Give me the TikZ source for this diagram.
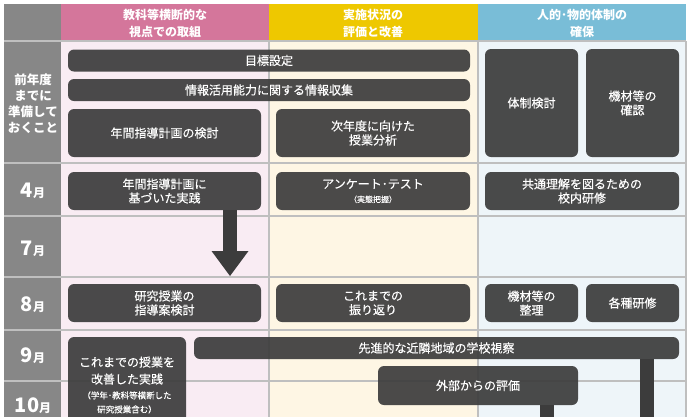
\documentclass[tikz,border=0pt]{standalone}
\usepackage{fontspec}
\setmainfont{Noto Sans CJK JP}
\newfontfamily\boxfont[FakeBold=0.35]{Noto Sans CJK JP}
\usetikzlibrary{arrows.meta}
\definecolor{leftgray}{HTML}{878787}
\definecolor{pinkh}{HTML}{D4769B}
\definecolor{pinkb}{HTML}{F9ECF3}
\definecolor{yelh}{HTML}{EEC800}
\definecolor{yelb}{HTML}{FEF6E4}
\definecolor{blueh}{HTML}{79BDD7}
\definecolor{blueb}{HTML}{EEF5F9}
\definecolor{gridc}{HTML}{BFBFBF}
\definecolor{boxc}{HTML}{3C3C3C}
\tikzset{
  gridline/.style={draw=gridc, line width=1.2pt},
  headtxt/.style={text=white, align=center, font=\bfseries\fontsize{12}{17}\selectfont},
  lefttxt/.style={text=white, align=center, font=\bfseries\fontsize{12.5}{16}\selectfont},
  monthtxt/.style={text=white, align=center, font=\bfseries\fontsize{12}{14}\selectfont, inner sep=0pt},
  darkbox/.style={fill=boxc, fill opacity=0.92, text opacity=1, text=white,
    rounded corners=6pt, inner sep=0pt, align=center, font=\boxfont\fontsize{12}{14}\selectfont},
  barline/.style={draw=boxc, line width=14pt},
  bigarrow/.style={draw=boxc, line width=14pt, -{Triangle[width=37pt,length=25pt,line width=0pt]}}
}
\newcommand{\mon}[1]{{\fontsize{20}{20}\selectfont #1}{\fontsize{12}{12}\selectfont 月}}
\newcommand{\smalltxt}{\fontsize{8.5}{11}\selectfont}
\begin{document}
\begin{tikzpicture}[x=1pt,y=-1pt]
\useasboundingbox (0,0) rectangle (692,416);
\clip (0,0) rectangle (692,416);
% backgrounds
\fill[leftgray] (4,4) rectangle (61,440);
\fill[pinkh] (61,4) rectangle (269,41);
\fill[yelh] (269,4) rectangle (478,41);
\fill[blueh] (478,4) rectangle (686,41);
\fill[pinkb] (61,41) rectangle (269,440);
\fill[yelb] (269,41) rectangle (478,440);
\fill[blueb] (478,41) rectangle (686,440);
\foreach \yy in {41,163,216,277,330,381} \draw[gridline] (4,\yy) -- (686,\yy);
\foreach \xx in {269,478,686} \draw[gridline] (\xx,41) -- (\xx,440);
% headers
\node[headtxt] (h1) at (165,23) {教科等横断的な\\視点での取組};
\node[headtxt] (h2) at (373,23) {実施状況の\\評価と改善};
\node[headtxt] (h3) at (582,23) {人的･物的体制の\\確保};
% left labels
\node[lefttxt] (m0) at (33,104) {前年度\\までに\\準備して\\おくこと};
\node[monthtxt] (m4) at (33,191) {\mon{4}};
\node[monthtxt] (m7) at (33,249) {\mon{7}};
\node[monthtxt] (m8) at (33,305) {\mon{8}};
\node[monthtxt] (m9) at (33,356) {\mon{9}};
\node[monthtxt] (m10) at (33,406) {\mon{10}};
% boxes: preparation
\node[darkbox, minimum width=402pt, minimum height=22pt] (goal) at (269,60.5) {目標設定};
\node[darkbox, minimum width=402pt, minimum height=22pt] (info) at (269,90) {情報活用能力に関する情報収集};
\node[darkbox, minimum width=193pt, minimum height=48pt] (plan) at (164.5,133) {年間指導計画の検討};
\node[darkbox, minimum width=194pt, minimum height=48pt] (nextyr) at (373,133) {次年度に向けた\\授業分析};
\node[darkbox, minimum width=93pt, minimum height=108pt] (taisei) at (531.5,103) {体制検討};
\node[darkbox, minimum width=93pt, minimum height=108pt] (kizai) at (632.5,103) {機材等の\\確認};
% April
\node[darkbox, minimum width=193pt, minimum height=38pt] (jissen) at (164.5,191) {年間指導計画に\\基づいた実践};
\node[darkbox, minimum width=194pt, minimum height=38pt] (anke) at (373,191) {アンケート･テスト\\{\fontsize{8}{10}\selectfont （実態把握）}};
\node[darkbox, minimum width=194pt, minimum height=38pt] (kenshu) at (582,191) {共通理解を図るための\\校内研修};
% August
\node[darkbox, minimum width=193pt, minimum height=38pt] (shidou) at (164.5,303) {研究授業の\\指導案検討};
\node[darkbox, minimum width=194pt, minimum height=38pt] (furi) at (373,303) {これまでの\\振り返り};
\node[darkbox, minimum width=93pt, minimum height=38pt] (seiri) at (531.5,303) {機材等の\\整理};
\node[darkbox, minimum width=93pt, minimum height=38pt] (kakushu) at (632.5,303) {各種研修};
% September / October
\node[darkbox, minimum width=118pt, minimum height=96pt] (kaizen) at (127,385) {これまでの授業を\\[3pt]改善した実践\\[1pt]{\smalltxt （学年･教科等横断した}\\{\smalltxt 研究授業含む）}};
\node[darkbox, minimum width=485pt, minimum height=22pt] (shisatsu) at (436.5,348) {先進的な近隣地域の学校視察};
\node[darkbox, minimum width=200pt, minimum height=39pt] (gaibu) at (478,385.5) {外部からの評価};
% connectors
\coordinate (atip) at (230,276);
\draw[bigarrow] (jissen.south -| atip) -- (atip);
\coordinate (bar1end) at (647,440);
\coordinate (bar2end) at (547,440);
\draw[barline] (shisatsu.south -| bar1end) -- (bar1end);
\draw[barline] (gaibu.south -| bar2end) -- (bar2end);
\end{tikzpicture}
\end{document}
